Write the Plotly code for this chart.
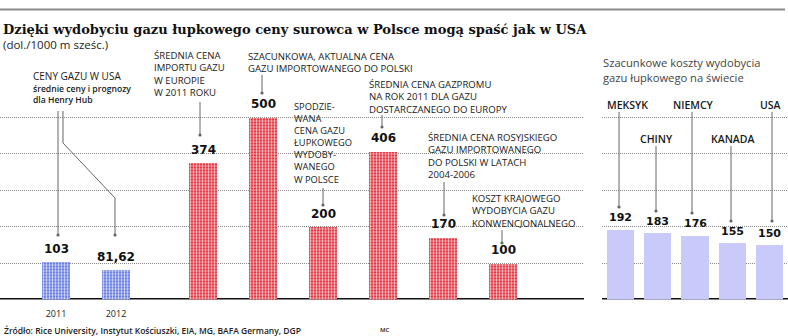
import plotly.graph_objects as go

# ---------------- data ----------------
left_labels = ["2011", "2012", "import_eu", "szac_pl", "lupkowy_pl", "gazprom", "ros_pl", "krajowy"]
left_values = [103, 81.62, 374, 500, 200, 406, 170, 100]
left_group = ["usa", "usa", "eu", "eu", "eu", "eu", "eu", "eu"]
year_ticks = ["2011", "2012"]

right_countries = ["MEKSYK", "CHINY", "NIEMCY", "KANADA", "USA"]
right_values = [192, 183, 176, 155, 150]

title = "Dzięki wydobyciu gazu łupkowego ceny surowca w Polsce mogą spaść jak w USA"
subtitle = "(dol./1000 m sześc.)"
source = "Źródło: Rice University, Instytut Kościuszki, EIA, MG, BAFA Germany, DGP"

W, H = 788, 336
def px(x):
    return x / W
def py(y):
    return 1 - y / H

FONT = "Open Sans"
NUMFONT = "DejaVu Sans"

# x positions: gap after the two USA bars
xpos = [i + (0.45 if i >= 2 else 0) for i in range(len(left_values))]
rpos = list(range(len(right_values)))

def fmt(v):
    s = ("%g" % v)
    return s.replace(".", ",")

fig = go.Figure()

blue_x = [x for x, g in zip(xpos, left_group) if g == "usa"]
blue_y = [v for v, g in zip(left_values, left_group) if g == "usa"]
red_x = [x for x, g in zip(xpos, left_group) if g != "usa"]
red_y = [v for v, g in zip(left_values, left_group) if g != "usa"]

fig.add_trace(go.Bar(x=blue_x, y=blue_y, width=0.48, xaxis="x", yaxis="y",
                     marker=dict(color="#6b80e2", line=dict(width=0),
                                 pattern=dict(shape="+", fgcolor="white", bgcolor="#6b80e2",
                                              size=3, solidity=0.3, fillmode="replace"))))
fig.add_trace(go.Bar(x=red_x, y=red_y, width=0.48, xaxis="x", yaxis="y",
                     marker=dict(color="#e63a46", line=dict(width=0),
                                 pattern=dict(shape="+", fgcolor="white", bgcolor="#e63a46",
                                              size=3, solidity=0.3, fillmode="replace"))))
fig.add_trace(go.Bar(x=rpos, y=right_values, width=0.73, xaxis="x2", yaxis="y2",
                     marker=dict(color="#c9c9fa", line=dict(width=0))))

ydom = [(H - 299.5) / H, (H - 80.5) / H]
grid = dict(showgrid=True, gridcolor="#8a8a8a", griddash="1px,1px", gridwidth=1,
            range=[0, 600], dtick=100, tick0=0, showticklabels=False, zeroline=False,
            showline=False, ticks="", domain=ydom, fixedrange=True)

fig.update_layout(
    width=W, height=H, margin=dict(l=0, r=0, t=0, b=0),
    paper_bgcolor="white", plot_bgcolor="white", showlegend=False,
    bargap=0, hovermode=False,
    xaxis=dict(domain=[0, 584 / W], range=[-56 / 60, 528 / 60], showgrid=False,
               zeroline=False, showline=False, tickvals=blue_x, ticktext=year_ticks,
               ticks="", ticklabelstandoff=7,
               tickfont=dict(family=FONT, size=9, color="#222"), anchor="y"),
    xaxis2=dict(domain=[602 / W, 1], range=[-0.5, 4.5], showgrid=False, zeroline=False,
                showline=False, showticklabels=False, ticks="", anchor="y2"),
    yaxis=dict(anchor="x", **grid),
    yaxis2=dict(anchor="x2", **grid),
)

shapes = []
# top rule
shapes.append(dict(type="line", xref="paper", yref="paper", x0=0, x1=px(785), y0=py(9.5), y1=py(9.5),
                   line=dict(color="#8a8a8a", width=2)))
# baselines
for xr, yr in (("x domain", "y"), ("x2 domain", "y2")):
    shapes.append(dict(type="line", xref=xr, yref=yr, x0=0, x1=1, y0=0, y1=0, layer="below",
                       line=dict(color="#111", width=3)))

LC = "#666"
def dot(x, y, r=1.6):
    shapes.append(dict(type="circle", xref="paper", yref="paper", x0=px(x - r), x1=px(x + r),
                       y0=py(y + r), y1=py(y - r), fillcolor=LC, line=dict(width=0)))

def leader(x, y0, y1):
    shapes.append(dict(type="line", xref="paper", yref="paper", x0=px(x), x1=px(x), y0=py(y0), y1=py(y1),
                       line=dict(color=LC, width=1)))
    dot(x, y1)

leader(58, 111, 235)
shapes.append(dict(type="path", xref="paper", yref="paper",
                   path="M %f,%f L %f,%f L %f,%f L %f,%f" % (px(63), py(111), px(63), py(143),
                                                             px(115), py(198), px(115), py(235)),
                   line=dict(color=LC, width=1)))
dot(115, 235)
leader(200, 102, 135)
leader(262, 75, 93)
leader(323, 188, 205)
leader(382, 115, 127)
leader(444, 182, 215)
leader(502, 230, 243)
leader(619, 112, 207)
leader(656, 146, 211)
leader(692, 112, 213)
leader(731, 146, 221)
leader(772, 112, 221)

fig.update_layout(shapes=shapes)

ann = []
def text(t, x, y, size=10, weight=500, color="#1a1a1a", anchor="left", family=FONT):
    ann.append(dict(text=t, xref="paper", yref="paper", x=px(x), y=py(y), xanchor=anchor,
                    yanchor="middle", showarrow=False, borderpad=0, align=anchor if anchor != "center" else "center",
                    font=dict(family=family, size=size, color=color, weight=weight)))

def block(lines, x, y0, size=9.6, **kw):
    # y0 = centre of first line; plotly uses 1.3em line spacing
    yc = y0 + (len(lines) - 1) * 1.3 * size / 2
    text("<br>".join(lines), x, yc, size=size, **kw)

text(title, 2, 29, size=13, weight=700, color="#111", family="DejaVu Serif")
text(subtitle, 2, 45, size=11.5, weight=400, color="#222")

block(["CENY GAZU W USA"], 32, 76, size=10)
block(["średnie ceny i prognozy", "dla Henry Hub"], 32, 88.8, size=8.6, weight=600)
block(["ŚREDNIA CENA", "IMPORTU GAZU", "W EUROPIE", "W 2011 ROKU"], 153, 55)
block(["SZACUNKOWA, AKTUALNA CENA", "GAZU IMPORTOWANEGO DO POLSKI"], 247, 56)
block(["SPODZIE-", "WANA", "CENA GAZU", "ŁUPKOWEGO", "WYDOBY-", "WANEGO", "W POLSCE"], 293, 107, size=9.3)
block(["ŚREDNIA CENA GAZPROMU", "NA ROK 2011 DLA GAZU", "DOSTARCZANEGO DO EUROPY"], 368, 85)
block(["ŚREDNIA CENA ROSYJSKIEGO", "GAZU IMPORTOWANEGO", "DO POLSKI W LATACH", "2004-2006"], 427, 137)
block(["KOSZT KRAJOWEGO", "WYDOBYCIA GAZU", "KONWENCJONALNEGO"], 471, 199)

block(["Szacunkowe koszty wydobycia", "gazu łupkowego na świecie"], 602, 63, size=11.2,
      weight=400, color="#444")

country_pos = {"MEKSYK": (627, 105), "NIEMCY": (693, 105), "USA": (770, 105),
               "CHINY": (656, 139), "KANADA": (733, 139)}
for c in right_countries:
    cx, cy = country_pos[c]
    text(c, cx, cy, size=10.5, weight=600, anchor="center")

text(source, 3, 330, size=8.5, weight=600, color="#222")
text("MC", 379, 330, size=6, weight=600, color="#222")

# value labels
for x, v in zip(xpos, left_values):
    ann.append(dict(text=fmt(v), x=x, y=v, xref="x", yref="y", xanchor="center", yanchor="bottom",
                    yshift=4, showarrow=False,
                    font=dict(family=NUMFONT, size=12, color="#111", weight=700)))
for x, v in zip(rpos, right_values):
    ann.append(dict(text=fmt(v), x=x, y=v, xref="x2", yref="y2", xanchor="center", yanchor="bottom",
                    yshift=3, showarrow=False,
                    font=dict(family=NUMFONT, size=11, color="#111", weight=700)))

fig.update_layout(annotations=ann)

fig.write_html("out.html")
